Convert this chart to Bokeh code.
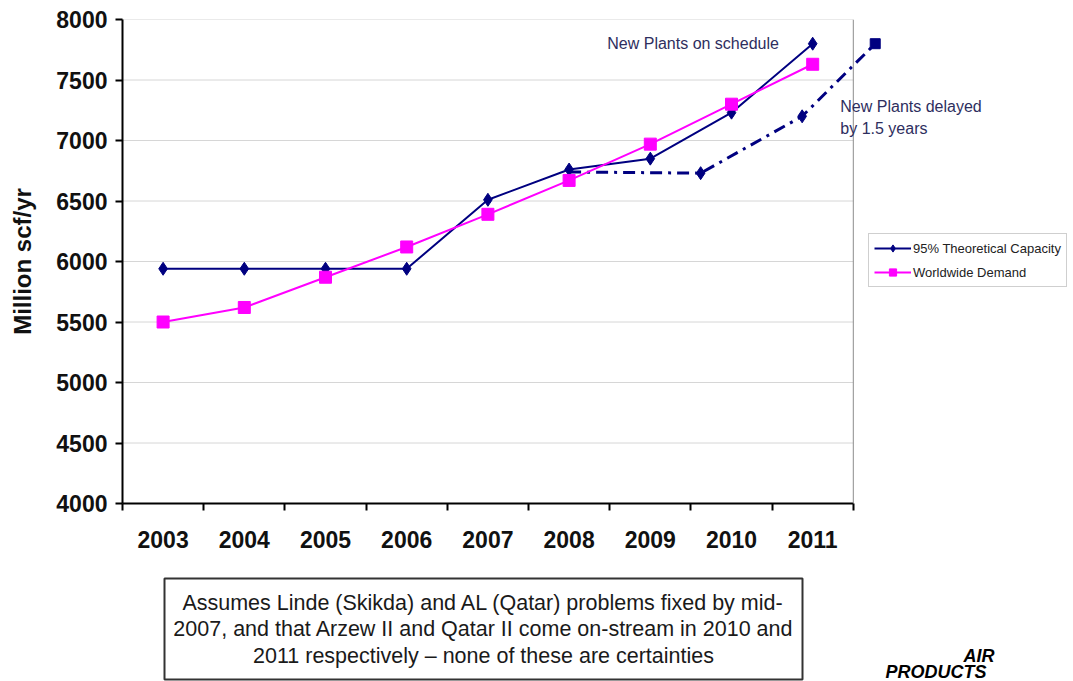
from bokeh.plotting import figure
from bokeh.layouts import column
from bokeh.models import (Range1d, FixedTicker, Span, Label, Legend, LegendItem,
                          BoxAnnotation)
from bokeh.embed import file_html
from bokeh.resources import INLINE

# ---------------- data ----------------
years = [2003, 2004, 2005, 2006, 2007, 2008, 2009, 2010, 2011]
year_labels = ["2003", "2004", "2005", "2006", "2007", "2008", "2009", "2010", "2011"]
capacity = [5940, 5940, 5940, 5940, 6510, 6760, 6850, 7230, 7800]
demand = [5500, 5620, 5870, 6120, 6390, 6670, 6970, 7300, 7630]
delayed_x = [2008, 2009.62, 2010.87, 2011.77]
delayed_y = [6740, 6730, 7200, 7800]
y_ticks = [4000, 4500, 5000, 5500, 6000, 6500, 7000, 7500, 8000]

series_names = ["95% Theoretical Capacity", "Worldwide Demand"]
note_text = ("Assumes Linde (Skikda) and AL (Qatar) problems fixed by mid-\n"
             "2007, and that Arzew II and Qatar II come on-stream in 2010 and\n"
             "2011 respectively \u2013 none of these are certainties")

NAVY = "#000080"
MAGENTA = "#ff00ff"
ANN = "#2e2e5e"
FONT = "Liberation Sans"

W = 1073
H1 = 570
H2 = 111
LEFT = 122
PX_PER_YEAR = 81.2

x_lo = years[0] - 0.5
x_hi = years[-1] + 0.5
x_end = x_lo + (W - LEFT) / PX_PER_YEAR

p = figure(width=W, height=H1, output_backend="svg", toolbar_location=None,
           x_range=Range1d(x_lo, x_end), y_range=Range1d(y_ticks[0], y_ticks[-1]),
           min_border_left=LEFT, min_border_right=0, min_border_top=19,
           min_border_bottom=H1 - 503)
p.outline_line_color = None
p.xgrid.visible = False
p.ygrid.visible = False
p.background_fill_color = "white"
p.border_fill_color = "white"

# gridlines (bounded to the category area)
p.segment(x0=[x_lo] * len(y_ticks), x1=[x_hi] * len(y_ticks), y0=y_ticks, y1=y_ticks,
          line_color="#d6d6d6", line_width=1)
p.add_layout(Span(location=x_hi, dimension="height", line_color="#8c8c8c", line_width=1))

# x axis: labels at year centres, tick marks between categories
xa = p.xaxis[0]
xa.ticker = FixedTicker(ticks=years, minor_ticks=[y - 0.5 for y in years] + [x_hi])
xa.bounds = (x_lo, x_hi)
xa.major_tick_out = 0
xa.major_tick_in = 0
xa.minor_tick_out = 7
xa.minor_tick_in = 0
xa.minor_tick_line_color = "black"
xa.minor_tick_line_width = 2
xa.axis_line_width = 2
xa.axis_line_color = "black"
xa.major_label_standoff = 20
xa.major_label_text_font = FONT
xa.major_label_text_font_style = "bold"
xa.major_label_text_font_size = "23px"
xa.major_label_text_color = "#111111"
xa.major_label_overrides = {y: l for y, l in zip(years, year_labels)}

ya = p.yaxis[0]
ya.ticker = FixedTicker(ticks=y_ticks, minor_ticks=[])
ya.major_tick_out = 7
ya.major_tick_in = 0
ya.major_tick_line_width = 2
ya.axis_line_width = 2
ya.axis_line_color = "black"
ya.major_label_standoff = 8
ya.major_label_text_font = FONT
ya.major_label_text_font_style = "bold"
ya.major_label_text_font_size = "23px"
ya.major_label_text_color = "#111111"
ya.axis_label = "Million scf/yr"
ya.axis_label_text_font = FONT
ya.axis_label_text_font_style = "bold"
ya.axis_label_text_font_size = "24px"
ya.axis_label_text_color = "#111111"
ya.axis_label_standoff = 17

# delayed scenario
p.line(delayed_x, delayed_y, line_color=NAVY, line_width=3, line_dash="12 6 3 6")
p.scatter(delayed_x[1:3], delayed_y[1:3], marker="diamond", size=13, color=NAVY)
p.scatter(delayed_x[3:], delayed_y[3:], marker="square", size=10, color=NAVY)

# main series
l1 = p.line(years, capacity, line_color=NAVY, line_width=2)
s1 = p.scatter(years, capacity, marker="diamond", size=13, color=NAVY)
l2 = p.line(years, demand, line_color=MAGENTA, line_width=2)
s2 = p.scatter(years, demand, marker="square", size=12, color=MAGENTA)

legend = Legend(items=[LegendItem(label=series_names[0], renderers=[l1, s1]),
                       LegendItem(label=series_names[1], renderers=[l2, s2])],
                location=(746, 216), label_text_font=FONT,
                label_text_font_size="13px", label_text_color="#222222",
                border_line_color="#a0a0a0", border_line_width=1,
                glyph_width=37, glyph_height=18, spacing=6, padding=5,
                label_standoff=2, background_fill_alpha=1, margin=0)
p.add_layout(legend, "center")

# annotations
p.add_layout(Label(x=2008.47, y=7802, text="New Plants on schedule",
                   text_font=FONT, text_font_size="16px",
                   text_color=ANN, text_baseline="middle"))
p.add_layout(Label(x=2011.34, y=7190, text="New Plants delayed\nby 1.5 years",
                   text_font=FONT, text_font_size="16px",
                   text_color=ANN, text_baseline="middle", text_line_height=1.3))

# ---------------- note panel (frame aligned with the chart frame; pixel ranges) ----------------
q = figure(width=W, height=H2, output_backend="svg", toolbar_location=None,
           x_range=Range1d(LEFT, W), y_range=Range1d(0, H2),
           min_border_left=LEFT, min_border_right=0, min_border_top=0,
           min_border_bottom=0)
q.axis.visible = False
q.grid.visible = False
q.outline_line_color = None

q.add_layout(BoxAnnotation(left=164, right=802, top=H2 - 8, bottom=H2 - 109,
                           fill_color="white", fill_alpha=1,
                           line_color="#333333", line_width=2, line_alpha=1))
q.add_layout(Label(x=483, y=H2 - 59, text=note_text, text_font=FONT,
                   text_font_size="21.5px", text_color="#1a1a1a",
                   text_align="center", text_baseline="middle",
                   text_line_height=1.1))

# corporate logo text
q.add_layout(Label(x=963, y=16, text="AIR",
                   text_font=FONT, text_font_style="bold italic",
                   text_font_size="18px", text_color="black"))
q.add_layout(Label(x=885, y=0, text="PRODUCTS",
                   text_font=FONT, text_font_style="bold italic",
                   text_font_size="18px", text_color="black"))

layout = column(p, q, spacing=0)
open("out.html", "w").write(file_html(layout, INLINE))
